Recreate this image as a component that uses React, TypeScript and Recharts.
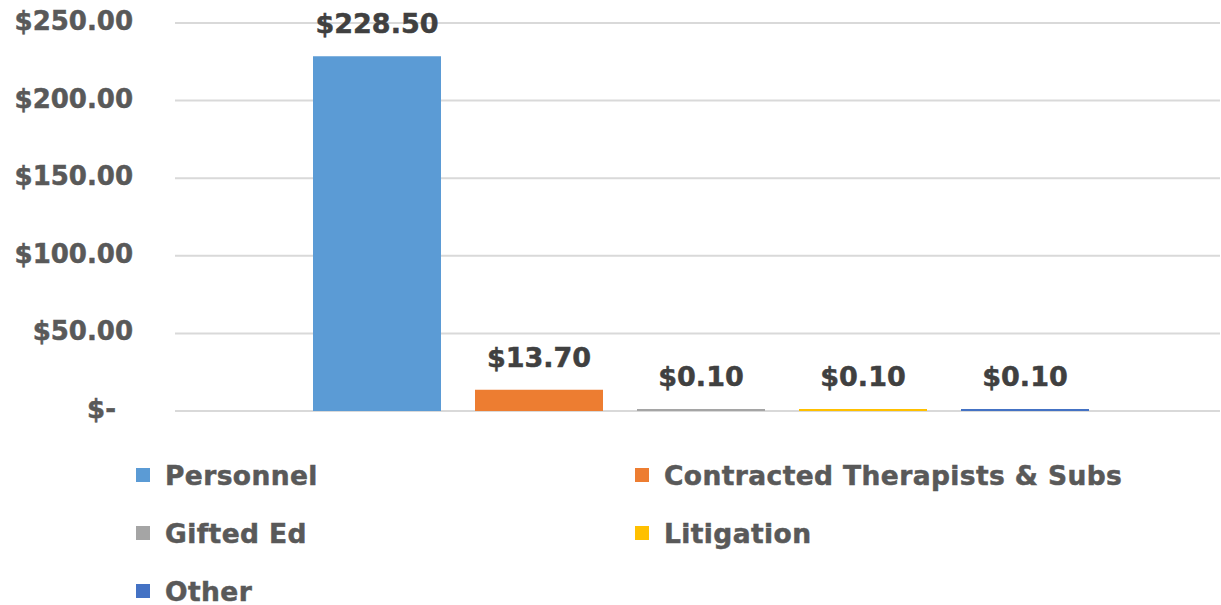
import { BarChart, Bar, XAxis, YAxis, CartesianGrid, LabelList } from 'recharts'

const CATEGORIES = ['']
const SERIES = ['Personnel', 'Contracted Therapists & Subs', 'Gifted Ed', 'Litigation', 'Other']
const VALUES = [228.5, 13.7, 0.1, 0.1, 0.1]
const COLORS = ['#5B9BD5', '#ED7D31', '#A5A5A5', '#FFC000', '#4472C4']
const Y_TICKS = [0, 50, 100, 150, 200, 250]

const FONT = '"DejaVu Sans", Arial, sans-serif'

const chartData = CATEGORIES.map((name) => {
  const row: Record<string, string | number> = { name }
  SERIES.forEach((s, i) => { row[s] = VALUES[i] })
  return row
})

const money = (v: number) => (v === 0 ? '$-' : `$${v.toFixed(2)}`)

function YTick({ x, y, payload }: any) {
  const v = payload.value as number
  return (
    <text
      x={v === 0 ? x - 59 : x - 42}
      y={y}
      dy={7}
      textAnchor="end"
      fontFamily={FONT}
      fontWeight="bold"
      fontSize={26}
      fill="#595959"
      stroke="#595959"
      strokeWidth={0.5}
    >
      {money(v)}
    </text>
  )
}

function BarLabel({ x, y, width, value }: any) {
  return (
    <text
      x={x + width / 2}
      y={y - 23}
      textAnchor="middle"
      fontFamily={FONT}
      fontWeight="bold"
      fontSize={27}
      fill="#404040"
      stroke="#404040"
      strokeWidth={0.5}
    >
      {money(value)}
    </text>
  )
}

function LegendBox() {
  return (
    <div
      style={{
        position: 'absolute',
        left: 136,
        top: 452,
        display: 'grid',
        gridTemplateColumns: '499px 580px',
        gridAutoRows: '58px',
        fontFamily: FONT,
        fontWeight: 'bold',
        fontSize: 26.5,
        letterSpacing: 0.4,
        color: '#595959',
        WebkitTextStroke: '0.5px #595959',
      }}
    >
      {SERIES.map((s, i) => (
        <div key={s} style={{ display: 'flex', alignItems: 'center', height: 46 }}>
          <span style={{ width: 14, height: 14, background: COLORS[i], marginRight: 15, display: 'inline-block' }} />
          <span style={{ whiteSpace: 'nowrap' }}>{s}</span>
        </div>
      ))}
    </div>
  )
}

export default function App() {
  return (
    <div style={{ position: 'absolute', left: 0, top: 0, width: 1221, height: 605, background: '#fff' }}>
      <BarChart
        width={1221}
        height={605}
        data={chartData}
        margin={{ top: 23, right: 1, bottom: 194, left: 0 }}
        barGap={34}
        barSize={128}
      >
        <CartesianGrid vertical={false} stroke="#D9D9D9" strokeWidth={2} />
        <XAxis dataKey="name" hide padding={{ left: 6, right: 0 }} />
        <YAxis
          width={175}
          domain={[0, 250]}
          ticks={Y_TICKS}
          axisLine={false}
          tickLine={false}
          tickSize={0}
          tickMargin={0}
          tick={<YTick />}
          interval={0}
        />
        {SERIES.map((s, i) => (
          <Bar key={s} dataKey={s} fill={COLORS[i]} isAnimationActive={false} minPointSize={2}>
            <LabelList dataKey={s} content={<BarLabel />} />
          </Bar>
        ))}
      </BarChart>
      <LegendBox />
    </div>
  )
}
